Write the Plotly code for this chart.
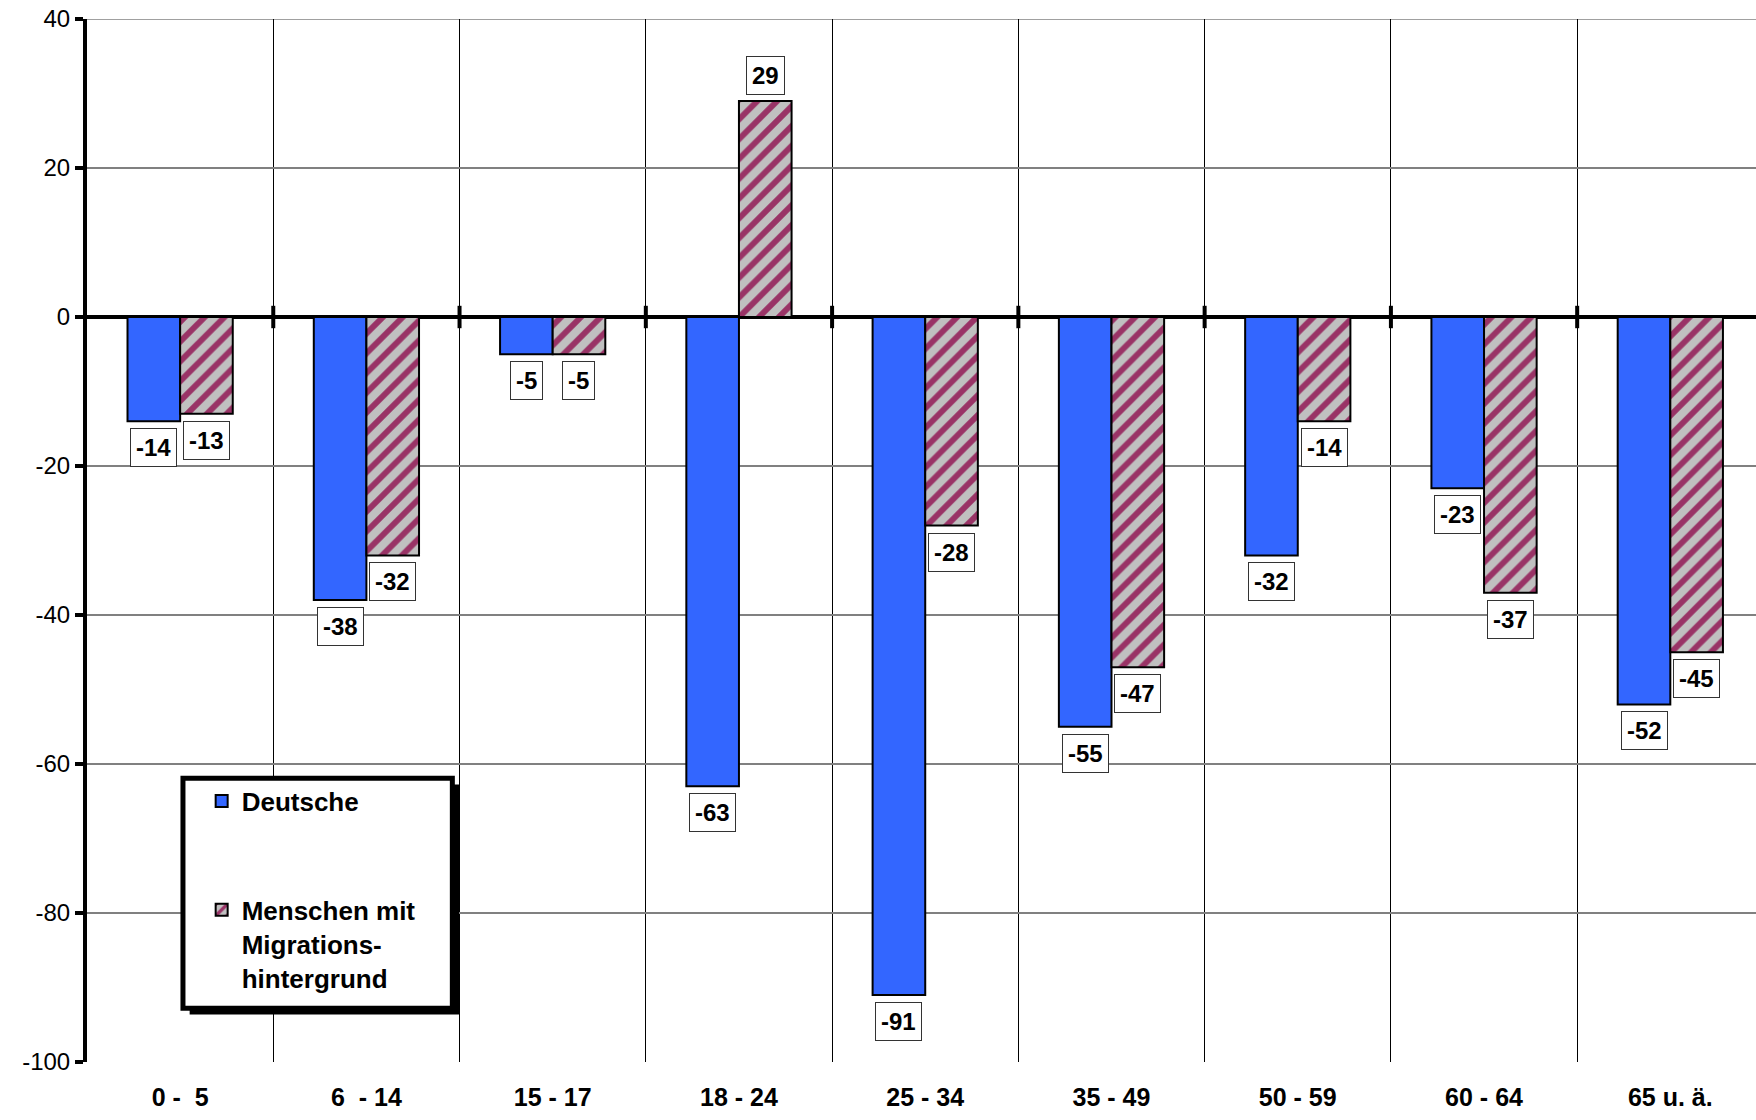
import plotly.graph_objects as go

categories = ["0 -  5", "6  - 14", "15 - 17", "18 - 24", "25 - 34", "35 - 49", "50 - 59", "60 - 64", "65 u. ä."]
deutsche = [-14, -38, -5, -63, -91, -55, -32, -23, -52]
migration = [-13, -32, -5, 29, -28, -47, -14, -37, -45]
series_names = ["Deutsche", "Menschen mit<br>Migrations-<br>hintergrund"]
y_ticks = [40, 20, 0, -20, -40, -60, -80, -100]

BLUE = "#3366FF"
HATCH_BG = "#C0C0C0"
HATCH_FG = "#993366"
BARGAP = 0.435
FONT = "Liberation Sans, Arial, sans-serif"
NARROW = "Liberation Sans Narrow, Arial Narrow, Liberation Sans, Arial, sans-serif"

xs = list(range(len(categories)))

fig = go.Figure()
fig.add_trace(go.Bar(
    x=xs, y=deutsche, name=series_names[0], legendgroup="a",
    marker=dict(color=BLUE, line=dict(color="black", width=2)),
))
fig.add_trace(go.Bar(
    x=xs, y=migration, name=series_names[1], legendgroup="b",
    marker=dict(color=HATCH_BG, line=dict(color="black", width=2),
                pattern=dict(shape="/", bgcolor=HATCH_BG, fgcolor=HATCH_FG,
                             fgopacity=1, size=14, solidity=0.42, fillmode="replace")),
))

# small tick marks on the zero line at category boundaries
bounds = [i + 0.5 for i in xs[:-1]]
fig.add_trace(go.Scatter(
    x=bounds, y=[0] * len(bounds), mode="markers", showlegend=False,
    hoverinfo="skip",
    marker=dict(symbol="line-ns-open", size=16, color="black",
                line=dict(color="black", width=4)),
))

off = (1 - BARGAP) / 4
annotations = []
for series, sign in ((deutsche, -1), (migration, 1)):
    for i, v in enumerate(series):
        annotations.append(dict(
            x=i + sign * off, y=v, xref="x", yref="y",
            text=f"<b>{v}</b>", showarrow=False,
            yanchor="top" if v < 0 else "bottom",
            yshift=-7 if v < 0 else 6,
            font=dict(family=FONT, size=24, color="black"),
            bgcolor="white", bordercolor="#333333", borderwidth=1, borderpad=5,
        ))

# legend box with drop shadow
L_x0, L_x1 = 0.0575, 0.2189
L_y0, L_y1 = 0.0515, 0.2720
shapes = [
    # top gridline at the upper end of the value range
    dict(type="line", xref="paper", yref="y", x0=0, x1=1,
         y0=y_ticks[0], y1=y_ticks[0], line=dict(color="#808080", width=1.5),
         layer="below"),
    dict(type="rect", xref="paper", yref="paper",
         x0=L_x0 + 0.004, x1=L_x1 + 0.004, y0=L_y0 - 0.006, y1=L_y1 - 0.006,
         fillcolor="black", line=dict(width=0), layer="above"),
    dict(type="rect", xref="paper", yref="paper",
         x0=L_x0, x1=L_x1, y0=L_y0, y1=L_y1,
         fillcolor="white", line=dict(color="black", width=5), layer="above"),
]

fig.update_layout(
    width=1756, height=1120,
    margin=dict(l=87, r=0, t=19, b=58, autoexpand=False),
    paper_bgcolor="white", plot_bgcolor="white",
    barmode="group", bargap=BARGAP, bargroupgap=0,
    showlegend=True,
    legend=dict(x=0.0687, y=0.2727, xanchor="left", yanchor="top",
                bgcolor="rgba(0,0,0,0)", borderwidth=0,
                font=dict(family=FONT, size=26, color="black", weight="bold"),
                tracegroupgap=72, valign="top", traceorder="grouped"),
    annotations=annotations,
    shapes=shapes,
    xaxis=dict(
        range=[-0.5, 8.46], tickmode="array", tickvals=xs, ticktext=[f"<b>{c}</b>" for c in categories],
        showgrid=False, zeroline=False, showline=False, ticks="",
        tickfont=dict(family=NARROW, size=25, color="black"),
        ticklabelstandoff=18, automargin=False,
        minor=dict(tickmode="linear", tick0=-0.5, dtick=1, showgrid=True,
                   gridcolor="black", gridwidth=1, ticks=""),
    ),
    yaxis=dict(
        range=[-100, 40], tickmode="array", tickvals=y_ticks,
        ticktext=[str(v) for v in y_ticks],
        showgrid=True, gridcolor="#808080", gridwidth=1.5,
        zeroline=True, zerolinecolor="black", zerolinewidth=4,
        showline=True, linecolor="black", linewidth=4,
        ticks="outside", ticklen=8, tickwidth=4, tickcolor="black",
        automargin=False,
        tickfont=dict(family=NARROW, size=24, color="black"),
    ),
)

fig.write_html("out.html",
               config={"displayModeBar": False},
               post_script="document.body.style.margin='0px';document.body.style.overflow='hidden';")
